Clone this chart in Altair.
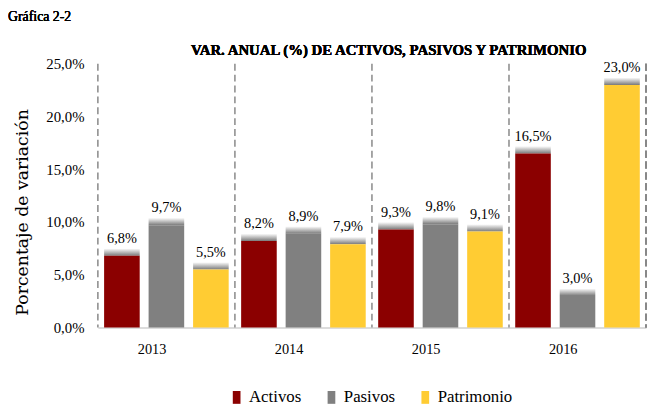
import altair as alt
import pandas as pd

years = ["2013", "2014", "2015", "2016"]
series = ["Activos", "Pasivos", "Patrimonio"]
activos = [6.8, 8.2, 9.3, 16.5]
pasivos = [9.7, 8.9, 9.8, 3.0]
patrimonio = [5.5, 7.9, 9.1, 23.0]
colors = ["#8B0000", "#808080", "#FFCC33"]
y_ticks = [0, 5, 10, 15, 20, 25]

rows = []
for i, y in enumerate(years):
    for s, vals in zip(series, [activos, pasivos, patrimonio]):
        rows.append({"year": y, "serie": s, "value": vals[i]})
df = pd.DataFrame(rows)

FONT = "Liberation Serif"
W, H = 555, 267

x_enc = alt.X("year:N", sort=years, title=None,
              scale=alt.Scale(paddingInner=0, paddingOuter=0),
              axis=alt.Axis(labelFont=FONT, labelFontSize=14.5, labelColor="#000",
                            labelPadding=22, ticks=False, domain=True,
                            domainColor="#d0d0d0", domainWidth=1.5, labelAngle=0))
xoff = alt.XOffset("serie:N", sort=series,
                   scale=alt.Scale(paddingInner=0.2, paddingOuter=0.14))
y_scale = alt.Scale(domain=[0, 25], nice=False)

base = alt.Chart(df)

shadow = base.transform_calculate(top="datum.value + 0.7").mark_bar(
    color=alt.Gradient(gradient="linear",
                       stops=[alt.GradientStop(color="#7a7a7a", offset=0),
                              alt.GradientStop(color="#ffffff", offset=1)],
                       x1=0, x2=0, y1=1, y2=0)
).encode(x=x_enc, xOffset=xoff, y=alt.Y("value:Q", scale=y_scale), y2="top:Q")

bars = base.mark_bar().encode(
    x=x_enc, xOffset=xoff,
    y=alt.Y("value:Q", scale=y_scale, title="Porcentaje de variación",
            axis=alt.Axis(values=y_ticks, grid=False, ticks=False, domain=False,
                          labelExpr="replace(format(datum.value, '.1f'), '.', ',') + '%'",
                          labelFont=FONT, labelFontSize=15, labelColor="#000",
                          labelPadding=14, titleFont="DejaVu Serif", titleFontSize=17.5,
                          titleFontWeight="normal", titleColor="#000", titlePadding=14,
                          titleY=150)),
    color=alt.Color("serie:N", sort=series,
                    scale=alt.Scale(domain=series, range=colors),
                    legend=alt.Legend(title=None, orient="none", direction="horizontal",
                                      legendX=132, legendY=329,
                                      symbolType="M-0.6,-1H0.6V1H-0.6Z", symbolSize=169,
                                      symbolStrokeWidth=0, labelOffset=4,
                                      labelFont=FONT, labelFontSize=17, labelColor="#000",
                                      columnPadding=22)),
)

labels = base.transform_calculate(
    lbl="replace(format(datum.value, '.1f'), '.', ',') + '%'"
).mark_text(font=FONT, fontSize=14.5, color="#000", baseline="alphabetic", dy=-13).encode(
    x=x_enc, xOffset=xoff, y=alt.Y("value:Q", scale=y_scale), text="lbl:N")

sep_df = pd.DataFrame({"year": years})
seps = alt.Chart(sep_df).mark_rule(color="#888888", strokeDash=[7, 4], strokeWidth=1.5).encode(
    x=alt.X("year:N", sort=years, bandPosition=0))
sep_end = alt.Chart(sep_df).mark_rule(color="#888888", strokeDash=[7, 4], strokeWidth=1.5).encode(
    x=alt.value(W), y=alt.value(0), y2=alt.value(H))

gtitle = alt.Chart(sep_df).mark_text(font=FONT, fontSize=14, color="#000", align="left",
                                     baseline="middle").encode(
    x=alt.value(-91), y=alt.value(-47), text=alt.value("Gráfica 2-2"))

mtitle = alt.Chart(sep_df).mark_text(font=FONT, fontSize=15, fontWeight="bold", color="#000",
                                     align="center", baseline="middle").encode(
    x=alt.value(W / 2 + 17), y=alt.value(-14),
    text=alt.value("VAR. ANUAL (%) DE ACTIVOS, PASIVOS Y PATRIMONIO"))

chart = alt.layer(seps, sep_end, shadow, bars, labels, gtitle, mtitle).properties(
    width=W, height=H,
    autosize=alt.AutoSizeParams(type="none"),
    padding={"left": 91, "top": 54, "right": 2, "bottom": 82},
).configure_view(stroke=None)

chart.save("out.html", embed_options={"renderer": "svg", "actions": False})
